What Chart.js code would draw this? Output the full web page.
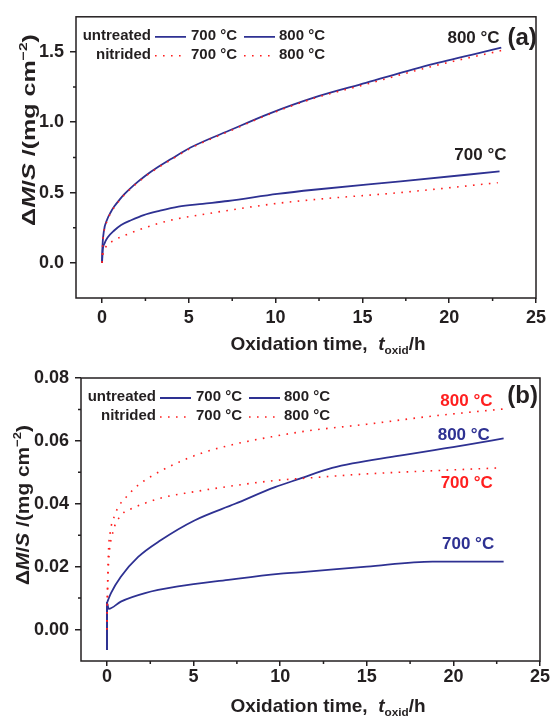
<!DOCTYPE html>
<html>
<head>
<meta charset="utf-8">
<script src="https://cdn.jsdelivr.net/npm/chart.js@4.4.0/dist/chart.umd.min.js"></script>
<style>
body { margin: 0; background: #fff; }
#wrap { position: relative; width: 552px; height: 717px; }
canvas { position: absolute; left: 0; }
</style>
</head>
<body>
<div id="wrap">
  <canvas id="panelA" width="552" height="358" style="top:0"></canvas>
  <canvas id="panelB" width="552" height="359" style="top:358px"></canvas>
</div>
<script>
// ---- panel (a): mass gain in mg cm^-2 vs oxidation time in h ----
var tU700a = [0, 0.04, 0.15, 0.32, 0.7, 1.1, 1.7, 2.4, 3.3, 4.4, 5.8, 7.25, 10.1, 12.2, 17.2, 22.9];
var mU700a = [0, 0.09, 0.14, 0.18, 0.23, 0.27, 0.305, 0.34, 0.37, 0.40, 0.42, 0.44, 0.49, 0.52, 0.58, 0.65];
var tU800a = [0, 0.02, 0.1, 0.3, 0.5, 0.7, 1.0, 1.3, 1.9, 2.5, 3.2, 4.0, 5.1, 7.5, 9.6, 12.2, 15.2, 19.1, 23];
var mU800a = [0, 0.10, 0.22, 0.31, 0.36, 0.40, 0.448, 0.49, 0.56, 0.62, 0.68, 0.74, 0.82, 0.95, 1.06, 1.175, 1.28, 1.415, 1.53];
var tN700a = [0, 0.05, 0.2, 0.7, 1.4, 2.25, 3.1, 4.2, 5.6, 7.1, 9.9, 12.2, 17.2, 22.8];
var mN700a = [0, 0.06, 0.11, 0.16, 0.20, 0.24, 0.275, 0.31, 0.34, 0.37, 0.42, 0.45, 0.50, 0.57];
var tN800a = [0, 0.02, 0.1, 0.3, 0.5, 0.7, 1.0, 1.3, 1.9, 2.5, 3.2, 4.0, 5.1, 7.5, 9.6, 12.2, 15.2, 19.1, 23];
var mN800a = [0, 0.09, 0.21, 0.30, 0.355, 0.395, 0.443, 0.485, 0.555, 0.615, 0.675, 0.735, 0.815, 0.945, 1.055, 1.17, 1.27, 1.40, 1.51];

// ---- panel (b) ----
var tU700b = [0, 0, 0.1, 0.8, 2.2, 4.1, 7.0, 9.9, 11.1, 15.0, 18.8, 22.9];
var mU700b = [-0.0065, 0.0085, 0.0066, 0.0089, 0.0116, 0.0137, 0.0158, 0.0177, 0.0182, 0.0200, 0.0216, 0.0216];
var tU800b = [0, 0, 0.05, 0.23, 0.8, 1.8, 3.1, 5.05, 7.4, 9.7, 11.1, 13.0, 16.9, 20.75, 22.9];
var mU800b = [-0.0065, 0.0085, 0.0092, 0.0116, 0.0168, 0.0231, 0.0284, 0.0347, 0.0400, 0.0453, 0.0479, 0.0514, 0.0553, 0.0587, 0.0608];
var tN700b = [0, 0.03, 0.1, 0.3, 0.9, 1.4, 2.2, 3.3, 4.9, 7.0, 9.7, 11.6, 15.0, 18.8, 22.6];
var mN700b = [0, 0.012, 0.022, 0.030, 0.0368, 0.0384, 0.0402, 0.0421, 0.0437, 0.0455, 0.0474, 0.0482, 0.0495, 0.0505, 0.0514];
var tN800b = [0, 0.03, 0.08, 0.19, 0.42, 0.71, 1.1, 1.77, 2.64, 3.9, 5.4, 7.4, 9.5, 11.6, 15.0, 18.8, 23.0];
var mN800b = [0, 0.012, 0.024, 0.031, 0.036, 0.0395, 0.0421, 0.0458, 0.049, 0.0526, 0.056, 0.059, 0.0613, 0.0632, 0.0653, 0.0679, 0.0702];

// ticks
var xTicks = [0, 5, 10, 15, 20, 25];
var xMinor = [2.5, 7.5, 12.5, 17.5, 22.5];
var yTicksA = [0, 0.5, 1.0, 1.5];
var yMinorA = [0.25, 0.75, 1.25];
var yTicksB = [0, 0.02, 0.04, 0.06, 0.08];
var yMinorB = [0.01, 0.03, 0.05, 0.07];

var FONT = '"Liberation Sans", Arial, Helvetica, sans-serif';
var INK = '#231f20';
var BLUE = '#2e3192';
var RED = '#ff1f1f';
var DOTS = [1.6, 6.4];

function pts(t, m) {
  return t.map(function (x, i) { return { x: x, y: m[i] }; });
}
function fnt(size, italic) {
  return (italic ? 'italic ' : '') + 'bold ' + size + 'px ' + FONT;
}

// text with italic / sub / superscript pieces
function richWidth(ctx, parts, size) {
  var w = 0;
  parts.forEach(function (p) {
    var s = (p.sub || p.sup) ? size * 0.62 : size;
    ctx.font = fnt(s, p.it);
    w += ctx.measureText(p.s).width;
  });
  return w;
}
function drawRich(ctx, parts, cx, cy, size) {
  var x = cx - richWidth(ctx, parts, size) / 2;
  ctx.textBaseline = 'middle';
  ctx.textAlign = 'left';
  parts.forEach(function (p) {
    var s = size, dy = 0;
    if (p.sub) { s = size * 0.62; dy = size * 0.3; }
    if (p.sup) { s = size * 0.62; dy = -size * 0.32; }
    ctx.font = fnt(s, p.it);
    ctx.fillText(p.s, x, cy + dy);
    x += ctx.measureText(p.s).width;
  });
}

var yTitle = [{ s: '\u0394' }, { s: 'M', it: true }, { s: '/' }, { s: 'S', it: true },
  { s: ' /(mg cm' }, { s: '\u22122', sup: true }, { s: ')' }];
var xTitle = [{ s: 'Oxidation time,  ' }, { s: 't', it: true }, { s: 'oxid', sub: true }, { s: '/h' }];

var decor = {
  id: 'decor',
  afterDraw: function (chart, args, o) {
    var ctx = chart.ctx, a = chart.chartArea;
    var xs = chart.scales.x, ys = chart.scales.y;
    ctx.save();
    ctx.strokeStyle = INK;
    ctx.lineWidth = 1.5;
    ctx.strokeRect(a.left, a.top, a.right - a.left, a.bottom - a.top);

    // minor ticks
    ctx.beginPath();
    o.minorX.forEach(function (v) {
      var p = xs.getPixelForValue(v);
      ctx.moveTo(p, a.bottom); ctx.lineTo(p, a.bottom + 3);
    });
    o.minorY.forEach(function (v) {
      var p = ys.getPixelForValue(v);
      ctx.moveTo(a.left, p); ctx.lineTo(a.left - 3, p);
    });
    ctx.stroke();

    // legend, two rows
    ctx.fillStyle = INK;
    var rows = [['untreated', BLUE, []], ['nitrided', RED, DOTS]];
    rows.forEach(function (r, i) {
      var y = a.top + 19 + i * 19;
      var x0 = a.left;
      ctx.font = fnt(15);
      ctx.textBaseline = 'middle';
      ctx.textAlign = 'right';
      ctx.fillText(r[0], x0 + 75, y);
      ctx.textAlign = 'left';
      ctx.fillText('700 \u00b0C', x0 + 115, y);
      ctx.fillText('800 \u00b0C', x0 + 203, y);
      ctx.strokeStyle = r[1];
      ctx.lineWidth = r[2].length ? 1.6 : 1.8;
      ctx.setLineDash(r[2]);
      ctx.beginPath();
      ctx.moveTo(x0 + 79, y + 1); ctx.lineTo(x0 + 110, y + 1);
      ctx.moveTo(x0 + 168, y + 1); ctx.lineTo(x0 + 199, y + 1);
      ctx.stroke();
      ctx.setLineDash([]);
    });

    // curve labels
    ctx.textAlign = 'center';
    ctx.textBaseline = 'middle';
    o.labels.forEach(function (l) {
      ctx.font = fnt(l.size || 17);
      ctx.fillStyle = l.color || INK;
      ctx.fillText(l.text, xs.getPixelForValue(l.x), ys.getPixelForValue(l.y));
    });

    // axis titles
    ctx.fillStyle = INK;
    drawRich(ctx, xTitle, o.xTitle[0], o.xTitle[1], 19);
    ctx.translate(o.yTitle[0], o.yTitle[1]);
    ctx.rotate(-Math.PI / 2);
    ctx.scale(o.yTitle[2], 1);
    drawRich(ctx, yTitle, 0, 0, 19);
    ctx.restore();
  }
};

function lineSet(label, data, dotted) {
  return {
    label: label,
    data: data,
    borderColor: dotted ? RED : BLUE,
    borderWidth: dotted ? 1.6 : 1.8,
    borderDash: dotted ? DOTS : [],
    pointRadius: 0,
    fill: false,
    cubicInterpolationMode: 'monotone'
  };
}

function axes(yMin, yMax, yTicks, digits, yWidth, xHeight, xPad) {
  return {
    x: {
      type: 'linear', min: -1.5, max: 25,
      afterBuildTicks: function (s) { s.ticks = xTicks.map(function (v) { return { value: v }; }); },
      afterFit: function (s) { s.height = xHeight; },
      grid: { drawOnChartArea: false, tickLength: 5, color: INK, lineWidth: 1.5 },
      border: { display: false },
      ticks: { color: INK, padding: xPad, font: { family: FONT, size: 18, weight: 'bold' }, maxRotation: 0 }
    },
    y: {
      min: yMin, max: yMax,
      afterBuildTicks: function (s) { s.ticks = yTicks.map(function (v) { return { value: v }; }); },
      afterFit: function (s) { s.width = yWidth; },
      grid: { drawOnChartArea: false, tickLength: 6, color: INK, lineWidth: 1.5 },
      border: { display: false },
      ticks: {
        color: INK, padding: 6, font: { family: FONT, size: 18, weight: 'bold' },
        callback: function (v) { return Number(v).toFixed(digits); }
      }
    }
  };
}

var chartA = new Chart(document.getElementById('panelA'), {
  type: 'line',
  data: {
    datasets: [
      lineSet('nitrided 700 \u00b0C', pts(tN700a, mN700a), true),
      lineSet('nitrided 800 \u00b0C', pts(tN800a, mN800a), true),
      lineSet('untreated 700 \u00b0C', pts(tU700a, mU700a), false),
      lineSet('untreated 800 \u00b0C', pts(tU800a, mU800a), false)
    ]
  },
  options: {
    responsive: false,
    animation: false,
    layout: { padding: { left: 0, top: 15, right: 16, bottom: 0 } },
    scales: axes(-0.25, 1.75, yTicksA, 1, 76, 60, 4),
    plugins: {
      legend: { display: false },
      tooltip: { enabled: false },
      decor: {
        minorX: xMinor, minorY: yMinorA,
        xTitle: [328, 345], yTitle: [30, 130, 1.32],
        labels: [
          { text: '800 \u00b0C', x: 21.4, y: 1.60 },
          { text: '700 \u00b0C', x: 21.8, y: 0.762 },
          { text: '(a)', x: 24.2, y: 1.60, size: 24 }
        ]
      }
    }
  },
  plugins: [decor]
});

var chartB = new Chart(document.getElementById('panelB'), {
  type: 'line',
  data: {
    datasets: [
      lineSet('nitrided 700 \u00b0C', pts(tN700b, mN700b), true),
      lineSet('nitrided 800 \u00b0C', pts(tN800b, mN800b), true),
      lineSet('untreated 700 \u00b0C', pts(tU700b, mU700b), false),
      lineSet('untreated 800 \u00b0C', pts(tU800b, mU800b), false)
    ]
  },
  options: {
    responsive: false,
    animation: false,
    layout: { padding: { left: 0, top: 20, right: 12, bottom: 0 } },
    scales: axes(-0.01, 0.08, yTicksB, 2, 81, 56, 0),
    plugins: {
      legend: { display: false },
      tooltip: { enabled: false },
      decor: {
        minorX: xMinor, minorY: yMinorB,
        xTitle: [328, 349], yTitle: [24, 147, 1.1],
        labels: [
          { text: '800 \u00b0C', x: 20.75, y: 0.0726, color: RED },
          { text: '800 \u00b0C', x: 20.6, y: 0.0619, color: BLUE },
          { text: '700 \u00b0C', x: 20.77, y: 0.0465, color: RED },
          { text: '700 \u00b0C', x: 20.85, y: 0.0272, color: BLUE },
          { text: '(b)', x: 24.0, y: 0.0742, size: 24 }
        ]
      }
    }
  },
  plugins: [decor]
});
</script>
</body>
</html>
